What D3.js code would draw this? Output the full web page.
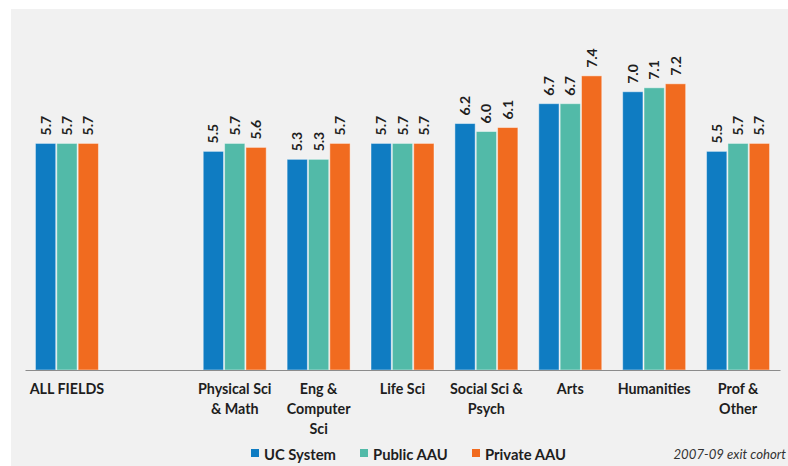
<!DOCTYPE html>
<html>
<head>
<meta charset="utf-8">
<script src="https://cdn.jsdelivr.net/npm/d3@7"></script>
<style>
  html, body { margin: 0; padding: 0; background: #ffffff; }
  svg { display: block; }
  text { font-family: Lato, "Open Sans", sans-serif; fill: #1e1e1e; }
</style>
</head>
<body>
<svg id="chart" width="788" height="466"></svg>
<script>
// Field categories (an empty slot separates the overall figure from the fields)
const categories = ["ALL FIELDS", "", "Physical Sci\n& Math", "Eng &\nComputer\nSci", "Life Sci",
                    "Social Sci &\nPsych", "Arts", "Humanities", "Prof &\nOther"];
const series = ["UC System", "Public AAU", "Private AAU"];
const seriesColors = ["#0f7cc2", "#52baa8", "#f16b1f"];

// Values per series, aligned with categories (null = no bar)
const ucSystem   = [5.7, null, 5.5, 5.3, 5.7, 6.2, 6.7, 7.0, 5.5];
const publicAAU  = [5.7, null, 5.7, 5.3, 5.7, 6.0, 6.7, 7.1, 5.7];
const privateAAU = [5.7, null, 5.6, 5.7, 5.7, 6.1, 7.4, 7.2, 5.7];
const valuesBySeries = [ucSystem, publicAAU, privateAAU];

const footnote = "2007-09 exit cohort";

const svg = d3.select("#chart");

// Light grey panel
svg.append("rect")
  .attr("x", 11).attr("y", 9)
  .attr("width", 788 - 11).attr("height", 466 - 9)
  .attr("fill", "#f1f1f1");

const x0 = d3.scaleBand().domain(categories.map((c, i) => i)).range([25, 780]).padding(0);
const groupWidth = 63;
const x1 = d3.scaleBand().domain(series).range([0, groupWidth]).paddingInner(0.05);
const y = d3.scaleLinear().domain([0, 8]).range([370, 52]);

const rows = [];
categories.forEach((c, i) => {
  series.forEach((s, j) => {
    const v = valuesBySeries[j][i];
    if (v != null) rows.push({ cat: i, series: s, color: seriesColors[j], value: v });
  });
});

const gx = d => x0(d.cat) + (x0.bandwidth() - groupWidth) / 2 + x1(d.series);

// Bars
svg.append("g").selectAll("rect")
  .data(rows)
  .join("rect")
  .attr("x", d => gx(d))
  .attr("y", d => y(d.value))
  .attr("width", x1.bandwidth())
  .attr("height", d => y(0) - y(d.value))
  .attr("fill", d => d.color)
  .attr("stroke", "rgba(255,255,255,0.45)")
  .attr("stroke-width", 1);

// Value labels, rotated
svg.append("g").selectAll("text")
  .data(rows)
  .join("text")
  .attr("transform", d => `translate(${gx(d) + x1.bandwidth() / 2},${y(d.value) - 8}) rotate(-90)`)
  .attr("dy", "0.36em")
  .attr("text-anchor", "start")
  .style("font-size", "14px")
  .style("font-weight", "bold")
  .text(d => d.value.toFixed(1));

// Category axis
const xAxis = d3.axisBottom(x0).tickSize(0).tickFormat("");
const axisG = svg.append("g").attr("transform", `translate(0,${y(0)})`).call(xAxis);
axisG.select(".domain").attr("stroke", "#8c8c8c").attr("stroke-width", 1.2);

const catLabels = svg.append("g").selectAll("text")
  .data(categories.map((c, i) => ({ c, i })).filter(d => d.c))
  .join("text")
  .attr("x", d => x0(d.i) + x0.bandwidth() / 2)
  .attr("y", 394)
  .attr("text-anchor", "middle")
  .style("font-size", "14.3px")
  .style("font-weight", "bold");
catLabels.each(function (d) {
  d3.select(this).selectAll("tspan")
    .data(d.c.split("\n"))
    .join("tspan")
    .attr("x", x0(d.i) + x0.bandwidth() / 2)
    .attr("dy", (t, k) => k === 0 ? 0 : 20)
    .text(t => t);
});

// Legend
const legendX = [251, 360, 472];
const legend = svg.append("g");
series.forEach((s, j) => {
  legend.append("rect")
    .attr("x", legendX[j]).attr("y", 449)
    .attr("width", 8).attr("height", 8)
    .attr("fill", seriesColors[j]);
  legend.append("text")
    .attr("x", legendX[j] + 13).attr("y", 460)
    .style("font-size", "14.8px")
    .style("font-weight", "bold")
    .text(s);
});

// Footnote
svg.append("text")
  .attr("x", 786).attr("y", 459)
  .attr("text-anchor", "end")
  .style("font-size", "13.2px")
  .style("font-style", "italic")
  .style("fill", "#333")
  .text(footnote);
</script>
</body>
</html>
